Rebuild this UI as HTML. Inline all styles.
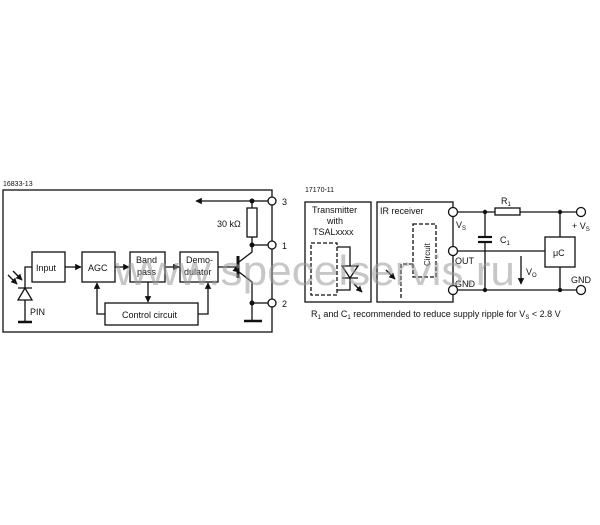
<!DOCTYPE html>
<html><head><meta charset="utf-8"><style>
html,body{margin:0;padding:0;background:#fff;width:600px;height:525px;overflow:hidden}
svg{display:block}
text{font-family:"Liberation Sans",sans-serif;fill:#111}
</style></head><body>
<svg width="600" height="525" viewBox="0 0 600 525" xmlns="http://www.w3.org/2000/svg">
<defs><marker id="a" viewBox="0 0 10 10" refX="9" refY="5" markerWidth="5" markerHeight="5" orient="auto"><path d="M0,0L10,5L0,10z" fill="#111"/></marker></defs>
<g stroke="#111" stroke-width="1.3" fill="none">
<rect x="3" y="190" width="269" height="142"/>
<rect x="32" y="252" width="33" height="30" fill="#fff"/>
<rect x="82" y="252" width="33" height="30" fill="#fff"/>
<rect x="130" y="252" width="35" height="30" fill="#fff"/>
<rect x="180" y="252" width="38" height="30" fill="#fff"/>
<rect x="105" y="303" width="93" height="22" fill="#fff"/>
<line x1="65" y1="267" x2="81" y2="267" marker-end="url(#a)"/>
<line x1="115" y1="267" x2="129" y2="267" marker-end="url(#a)"/>
<line x1="165" y1="267" x2="179" y2="267" marker-end="url(#a)"/>
<line x1="218" y1="267" x2="236" y2="267"/>
<line x1="148" y1="282" x2="148" y2="302" marker-end="url(#a)"/>
<polyline points="105,314 97,314 97,283" marker-end="url(#a)"/>
<polyline points="198,314 208,314 208,283" marker-end="url(#a)"/>
<polyline points="32,267 25,267 25,288"/>
<line x1="25" y1="300" x2="25" y2="322"/>
<path d="M18,288h14M25,288l-7,12h14z"/>
<line x1="18" y1="322" x2="32" y2="322" stroke-width="2.5"/>
<line x1="8" y1="275" x2="17" y2="284" marker-end="url(#a)"/>
<line x1="13" y1="271" x2="22" y2="280" marker-end="url(#a)"/>
<line x1="238" y1="256" x2="238" y2="278" stroke-width="3"/>
<polyline points="239,262 252,252 252,201"/>
<polyline points="239,272 252,282 252,320" marker-start="url(#a)"/>
<rect x="247" y="208" width="10" height="29" fill="#fff"/>
<line x1="252" y1="201" x2="196" y2="201" marker-end="url(#a)"/>
<line x1="252" y1="201" x2="268" y2="201"/>
<line x1="252" y1="245" x2="268" y2="245"/>
<line x1="252" y1="303" x2="268" y2="303"/>
<line x1="244" y1="321" x2="262" y2="321" stroke-width="2.5"/>
<circle cx="272" cy="201" r="4" fill="#fff"/>
<circle cx="272" cy="245" r="4" fill="#fff"/>
<circle cx="272" cy="303" r="4" fill="#fff"/>
<rect x="305" y="202" width="66" height="100"/>
<rect x="377" y="202" width="76" height="100"/>
<g stroke-dasharray="4,2"><rect x="311" y="243" width="26" height="52"/>
<rect x="413" y="224" width="23" height="53"/>
<polyline points="413,264 401,264 401,300"/></g>
<polyline points="337,247 350,247 350,290 337,290"/>
<path d="M342,278h16M350,278l-8,-12h16z" fill="#fff"/>
<line x1="354" y1="284" x2="362" y2="292" marker-end="url(#a)"/>
<line x1="386" y1="270" x2="395" y2="279" marker-end="url(#a)"/>
<line x1="458" y1="212" x2="495" y2="212"/>
<rect x="495" y="208" width="25" height="7" fill="#fff"/>
<line x1="520" y1="212" x2="576" y2="212"/>
<line x1="458" y1="251" x2="545" y2="251"/>
<line x1="458" y1="290" x2="576" y2="290"/>
<line x1="485" y1="212" x2="485" y2="237"/><line x1="485" y1="242" x2="485" y2="290"/>
<line x1="478" y1="237" x2="492" y2="237" stroke-width="2.2"/>
<line x1="478" y1="242" x2="492" y2="242" stroke-width="2.2"/>
<line x1="560" y1="212" x2="560" y2="237"/><line x1="560" y1="267" x2="560" y2="290"/>
<rect x="545" y="237" width="30" height="30" fill="#fff"/>
<line x1="521" y1="256" x2="521" y2="284" marker-end="url(#a)"/>
<circle cx="453" cy="212" r="4.5" fill="#fff"/>
<circle cx="453" cy="251" r="4.5" fill="#fff"/>
<circle cx="453" cy="290" r="4.5" fill="#fff"/>
<circle cx="581" cy="212" r="4.5" fill="#fff"/>
<circle cx="581" cy="290" r="4.5" fill="#fff"/>
</g>
<g fill="#111"><circle cx="252" cy="201" r="2.5"/><circle cx="252" cy="245" r="2.5"/><circle cx="252" cy="303" r="2.5"/>
<circle cx="485" cy="212" r="2.2"/><circle cx="485" cy="290" r="2.2"/><circle cx="560" cy="212" r="2.2"/><circle cx="560" cy="290" r="2.2"/></g>
<g font-size="9">
<text x="3" y="186" font-size="7">16833-13</text>
<text x="36" y="271">Input</text>
<text x="88" y="271">AGC</text>
<text x="136" y="263">Band</text><text x="137" y="275">pass</text>
<text x="186" y="263">Demo-</text><text x="184" y="275">dulator</text>
<text x="122" y="318">Control circuit</text>
<text x="30" y="315">PIN</text>
<text x="217" y="227">30 kΩ</text>
<text x="282" y="205">3</text><text x="282" y="249">1</text><text x="282" y="307">2</text>
<text x="305" y="192" font-size="7">17170-11</text>
<text x="312" y="213">Transmitter</text><text x="327" y="224">with</text><text x="313" y="235">TSALxxxx</text>
<text x="380" y="214">IR receiver</text>
<text transform="translate(430,266) rotate(-90)" font-size="8">Circuit</text>
<text x="456" y="228">V<tspan font-size="6" dy="2">S</tspan></text>
<text x="455" y="264">OUT</text>
<text x="455" y="287">GND</text>
<text x="501" y="204">R<tspan font-size="6" dy="2">1</tspan></text>
<text x="500" y="243">C<tspan font-size="6" dy="2">1</tspan></text>
<text x="526" y="275">V<tspan font-size="6" dy="2">O</tspan></text>
<text x="553" y="256">μC</text>
<text x="572" y="229">+ V<tspan font-size="6" dy="2">S</tspan></text>
<text x="571" y="283">GND</text>
<text x="311" y="317">R<tspan font-size="6" dy="2">1</tspan><tspan dy="-2"> and C</tspan><tspan font-size="6" dy="2">1</tspan><tspan dy="-2"> recommended to reduce supply ripple for V</tspan><tspan font-size="6" dy="2">S</tspan><tspan dy="-2"> &lt; 2.8 V</tspan></text>
</g>
<text x="115" y="285" font-size="42" textLength="400" lengthAdjust="spacingAndGlyphs" style="fill:#999;fill-opacity:0.55">www.specelservis.ru</text>
</svg>
</body></html>
